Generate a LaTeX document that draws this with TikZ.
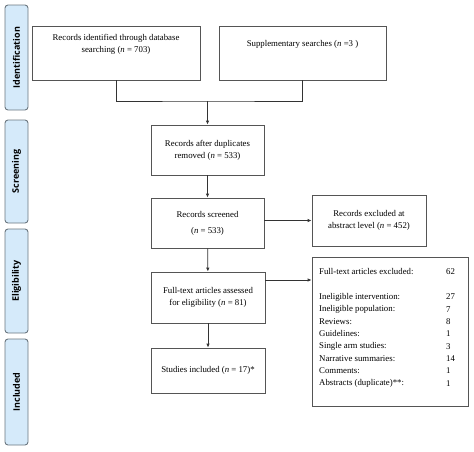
\documentclass[tikz,border=0pt]{standalone}
\usepackage{fontspec}
\setmainfont{Liberation Serif}
\newfontfamily\tabfont{Open Sans}
\usepackage{tikz}
\usetikzlibrary{arrows.meta, positioning, calc}

\definecolor{tabblue}{HTML}{D5EAFA}
\definecolor{tabline}{HTML}{6B7780}
\definecolor{boxline}{HTML}{555555}

\tikzset{
    box/.style={draw=boxline, line width=0.8pt, align=center, inner sep=0pt,
        font=\fontsize{8.8}{12}\selectfont},
    phase/.style={draw=tabline, fill=tabblue, line width=0.9pt, rounded corners=3pt,
        rotate=90, minimum height=23pt, inner sep=0pt,
        font=\tabfont\bfseries\fontsize{9}{10}\selectfont},
    arr/.style={-{Latex[length=4pt,width=3.5pt]}, line width=0.8pt, draw=black!80},
    link/.style={line width=0.8pt, draw=black!80},
    row/.style={anchor=west, inner sep=0pt, font=\fontsize{8.8}{12}\selectfont}
}

\begin{document}
\begin{tikzpicture}[x=1pt, y=-1pt]
    \useasboundingbox (0,0) rectangle (474,451);

    % Phase tabs on the left
    \node[phase, minimum width=105pt] (tabid) at (16.5,57.5) {Identification};
    \node[phase, minimum width=103pt] (tabscr) at (16.5,171.5) {Screening};
    \node[phase, minimum width=104pt] (tabel) at (16.5,281) {Eligibility};
    \node[phase, minimum width=106pt] (tabinc) at (16.5,392) {Included};

    % Identification boxes
    \node[box, minimum width=168pt, minimum height=54pt] (dbase) at (116,53)
        {Records identified through database\\searching (\textit{n} = 703)\\[4pt]\strut};
    \node[box, minimum width=167pt, minimum height=54pt] (supp) at (302.5,53)
        {Supplementary searches (\textit{n} =3 )\\[4pt]\strut};

    % Main flow
    \node[box, minimum width=113pt, minimum height=50pt] (dup) at (207.5,150)
        {Records after duplicates\\removed (\textit{n} = 533)};
    \node[box, minimum width=113pt, minimum height=50pt] (screen) at (207.5,223)
        {Records screened\\[4pt](\textit{n} = 533)};
    \node[box, minimum width=114pt, minimum height=51pt] (full) at (208,297.5)
        {Full-text articles assessed\\for eligibility (\textit{n} = 81)};
    \node[box, minimum width=114pt, minimum height=45pt] (incl) at (208,370.5)
        {Studies included (\textit{n} = 17)*};

    % Exclusion boxes
    \node[box, minimum width=114pt, minimum height=51pt] (abst) at (369,220.5)
        {Records excluded at\\abstract level (\textit{n} = 452)};
    \node[box, minimum width=156pt, minimum height=149pt] (excl) at (390,331.5) {};

    % Exclusion reasons
    \node[row] (r0) at (319,272) {Full-text articles excluded:};
    \node[row] (n0) at (446,272) {62};
    \foreach \lab/\num [count=\i] in {Ineligible intervention:/27, Ineligible population:/7,
        Reviews:/8, Guidelines:/1, Single arm studies:/3, Narrative summaries:/14,
        Comments:/1, Abstracts (duplicate)**:/1} {
        \node[row] (r\i) at (319,{297+(\i-1)*12.3}) {\lab};
        \node[row] (n\i) at (446,{297+(\i-1)*12.3}) {\num};
    }

    % Connectors
    \coordinate (merge) at (207.5,101);
    \draw[link] (dbase.south) |- (merge) -| (supp.south);
    \draw[arr] (merge) -- (dup.north);
    \draw[arr] (dup) -- (screen);
    \draw[arr] (screen) -- (full);
    \draw[arr] (full) -- (incl);
    \draw[arr] (abst.west -| screen.east) -- (abst.west);
    \draw[arr] ([yshift=17.5pt]full.east) -- ([yshift=17.5pt]full.east -| excl.west);

\end{tikzpicture}
\end{document}
